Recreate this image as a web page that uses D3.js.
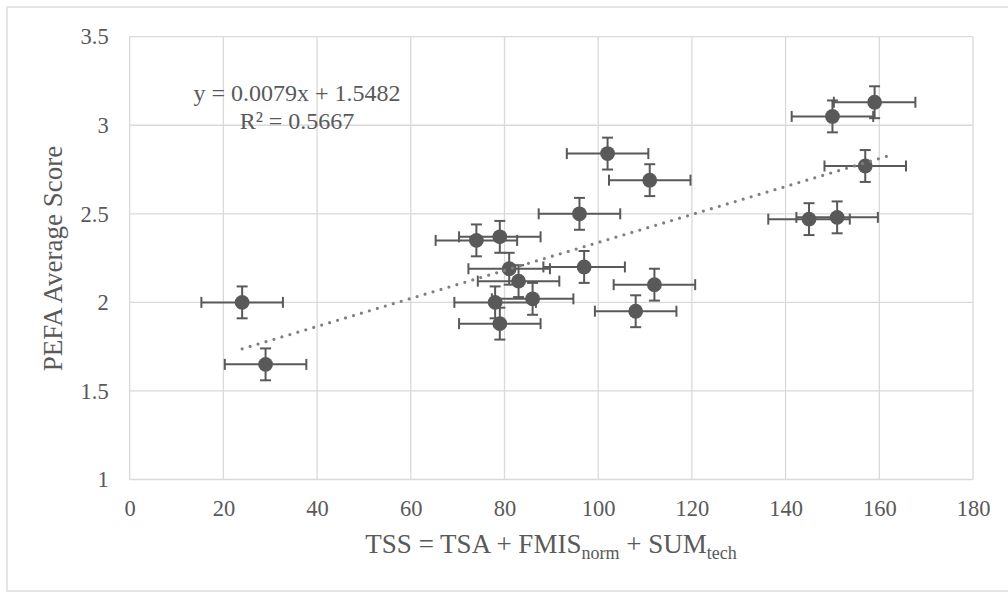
<!DOCTYPE html>
<html>
<head>
<meta charset="utf-8">
<script src="https://cdn.jsdelivr.net/npm/d3@7"></script>
<style>
  html, body { margin: 0; padding: 0; background: #fff; }
  svg { display: block; }
  text { font-family: "Liberation Serif", "Times New Roman", serif; fill: #595959; }
</style>
</head>
<body>
<svg id="chart" width="1008" height="593"></svg>
<script>
// ---- data ----
const tssValues  = [24, 29, 74, 79, 81, 83, 78, 86, 79, 96, 97, 102, 111, 108, 112, 145, 151, 150, 159, 157];
const pefaScores = [2.00, 1.65, 2.35, 2.37, 2.19, 2.12, 2.00, 2.02, 1.88, 2.50, 2.20, 2.84, 2.69, 1.95, 2.10, 2.47, 2.48, 3.05, 3.13, 2.77];
const xErrorAmount = [8.7];
const yErrorAmount = [0.09];
const trendSlope = [0.0079];
const trendIntercept = [1.5482];
const trendRange = [24, 163];
const xTicks = [0, 20, 40, 60, 80, 100, 120, 140, 160, 180];
const yTicks = [1, 1.5, 2, 2.5, 3, 3.5];
const equationLines = ["y = 0.0079x + 1.5482", "R² = 0.5667"];

const points = tssValues.map((x, i) => ({ x, y: pefaScores[i] }));

const svg = d3.select("#chart");
const margin = { left: 129.7, right: 973, top: 36.7, bottom: 479.5 };

const x = d3.scaleLinear().domain([0, 180]).range([margin.left, margin.right]);
const y = d3.scaleLinear().domain([1, 3.5]).range([margin.bottom, margin.top]);

// chart border
svg.append("rect")
  .attr("x", 7).attr("y", 7).attr("width", 1010).attr("height", 584)
  .attr("fill", "#fff").attr("stroke", "#d9d9d9").attr("stroke-width", 1.3);

// gridlines
const grid = svg.append("g");
grid.selectAll("line.v").data(xTicks).join("line")
  .attr("x1", d => x(d)).attr("x2", d => x(d))
  .attr("y1", y(1)).attr("y2", y(3.5))
  .attr("stroke", "#d9d9d9").attr("stroke-width", 1.3);
grid.selectAll("line.h").data(yTicks).join("line")
  .attr("y1", d => y(d)).attr("y2", d => y(d))
  .attr("x1", x(0)).attr("x2", x(180))
  .attr("stroke", "#d9d9d9").attr("stroke-width", 1.3);

// axes (labels only)
const xAxis = svg.append("g")
  .attr("transform", `translate(0,${y(1)})`)
  .call(d3.axisBottom(x).tickValues(xTicks).tickSize(0).tickPadding(21).tickFormat(d3.format("d")));
xAxis.attr("font-family", null).attr("font-size", null);
xAxis.select(".domain").remove();
xAxis.selectAll("text").style("font-size", "22.5px").attr("fill", "#595959")
  .style("font-family", '"Liberation Serif", "Times New Roman", serif');

const yAxis = svg.append("g")
  .attr("transform", `translate(${x(0)},0)`)
  .call(d3.axisLeft(y).tickValues(yTicks).tickSize(0).tickPadding(21).tickFormat(d => String(d)));
yAxis.attr("font-family", null).attr("font-size", null);
yAxis.select(".domain").remove();
yAxis.selectAll("text").style("font-size", "22.5px").attr("fill", "#595959")
  .style("font-family", '"Liberation Serif", "Times New Roman", serif');

// error bars
const errColor = "#595959";
const cap = 5.5;
const eb = svg.append("g").attr("stroke", errColor).attr("stroke-width", 2).attr("fill", "none");
const ex = xErrorAmount[0], ey = yErrorAmount[0];
points.forEach(p => {
  const g = eb.append("g");
  g.append("line").attr("x1", x(p.x - ex)).attr("x2", x(p.x + ex)).attr("y1", y(p.y)).attr("y2", y(p.y));
  g.append("line").attr("x1", x(p.x - ex)).attr("x2", x(p.x - ex)).attr("y1", y(p.y) - cap).attr("y2", y(p.y) + cap);
  g.append("line").attr("x1", x(p.x + ex)).attr("x2", x(p.x + ex)).attr("y1", y(p.y) - cap).attr("y2", y(p.y) + cap);
  g.append("line").attr("x1", x(p.x)).attr("x2", x(p.x)).attr("y1", y(p.y - ey)).attr("y2", y(p.y + ey));
  g.append("line").attr("x1", x(p.x) - cap).attr("x2", x(p.x) + cap).attr("y1", y(p.y - ey)).attr("y2", y(p.y - ey));
  g.append("line").attr("x1", x(p.x) - cap).attr("x2", x(p.x) + cap).attr("y1", y(p.y + ey)).attr("y2", y(p.y + ey));
});

// markers
svg.append("g").selectAll("circle").data(points).join("circle")
  .attr("cx", d => x(d.x)).attr("cy", d => y(d.y)).attr("r", 7.4)
  .attr("fill", "#595959");

// trendline (dotted)
const tr = trendRange.map(v => ({ x: v, y: trendSlope[0] * v + trendIntercept[0] }));
svg.append("path")
  .attr("d", d3.line().x(d => x(d.x)).y(d => y(d.y))(tr))
  .attr("fill", "none").attr("stroke", "#7f7f7f").attr("stroke-width", 3.2)
  .attr("stroke-linecap", "round").attr("stroke-dasharray", "0 8.3");

// equation label
svg.append("g").selectAll("text").data(equationLines).join("text")
  .attr("x", 297).attr("y", (d, i) => 101 + i * 28)
  .attr("text-anchor", "middle").style("font-size", "24px")
  .text(d => d);

// x axis title with subscripts
const xt = svg.append("text").attr("x", 551).attr("y", 553)
  .attr("text-anchor", "middle").style("font-size", "27px");
xt.append("tspan").text("TSS = TSA + FMIS");
xt.append("tspan").attr("dy", 6).style("font-size", "18px").text("norm");
xt.append("tspan").attr("dy", -6).text(" + SUM");
xt.append("tspan").attr("dy", 6).style("font-size", "18px").text("tech");

// y axis title
svg.append("text")
  .attr("transform", "translate(62,258.5) rotate(-90)")
  .attr("text-anchor", "middle").style("font-size", "27px")
  .text("PEFA Average Score");
</script>
</body>
</html>
